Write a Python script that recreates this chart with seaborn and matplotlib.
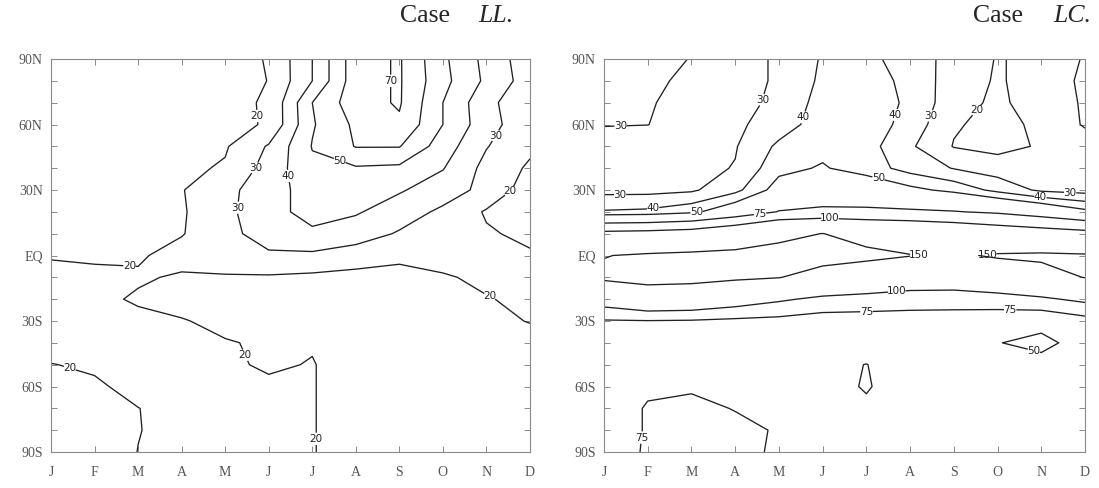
import matplotlib
matplotlib.use('Agg')
import matplotlib.pyplot as plt
import numpy as np
import pandas as pd
import seaborn as sns

months = ['J', 'F', 'M', 'A', 'M', 'J', 'J', 'A', 'S', 'O', 'N', 'D']
lats = [90, 80, 70, 60, 50, 40, 30, 20, 10, 0,
        -10, -20, -30, -40, -50, -60, -70, -80, -90]
lat_ticks = [90, 60, 30, 0, -30, -60, -90]
lat_labels = ['90N', '60N', '30N', 'EQ', '30S', '60S', '90S']

ll_levels = [20, 30, 40, 50, 60, 70]
lc_levels = [20, 30, 40, 50, 75, 100, 150]

# Case LL, rows = latitude (90N -> 90S), columns = month (J -> D)
ll_grid = [
    [10, 11, 12, 13, 17, 20.5, 40, 66, 71, 52, 37, 24],        # 90N
    [10, 11, 12, 13, 16, 20.2, 40, 66, 71, 53, 38, 25],        # 80N
    [10, 11, 12, 13, 18, 20.8, 50, 66, 71, 50, 33, 22],        # 70N
    [11, 11, 12, 13, 17, 21, 49, 62, 68.5, 50, 34, 23],        # 60N
    [12, 12, 13, 15, 19, 31, 50.5, 60.5, 60.5, 45, 30.5, 22],  # 50N
    [13, 13, 14, 18, 21, 34, 48, 49, 48, 40.5, 27, 18.5],      # 40N
    [14, 15, 17, 19.5, 27, 36, 44, 45, 41, 35, 27, 15],        # 30N
    [15, 15, 17, 19, 27, 38, 42, 41, 35, 28, 19, 15],          # 20N
    [17, 17, 18, 19.5, 26, 36, 39, 35, 29, 25, 21, 18],        # 10N
    [19, 18, 19, 23, 26, 28, 28, 25, 22, 24, 22, 21],          # EQ
    [24, 23, 21, 19, 19, 19, 18, 17, 17, 19, 22, 23],          # 10S
    [24, 22, 19, 17, 16, 16, 16, 16, 16, 17, 19.5, 22],        # 20S
    [24, 23, 22, 20.5, 18, 17, 16, 15, 15, 15, 17, 20.5],      # 30S
    [23, 23, 22, 21, 20.5, 19, 19.5, 16, 15, 15, 15, 16],      # 40S
    [19.8, 21, 22, 22, 21, 19.2, 20.3, 17, 16, 15, 15, 15],    # 50S
    [17, 19, 22, 23, 23, 21, 20.3, 17, 16, 15, 15, 15],        # 60S
    [15, 17, 19.9, 22, 23, 22, 20.3, 17, 16, 15, 15, 15],      # 70S
    [14, 16, 19.8, 22, 23, 22, 20.3, 17, 16, 15, 14, 14],      # 80S
    [13, 16, 20.1, 22, 23, 22, 20.3, 17, 16, 15, 14, 14],      # 90S
]

# Case LC
lc_grid = [
    [33, 31, 29.9, 27, 31, 41, 42, 36.5, 25.5, 19.5, 22, 31],              # 90N
    [33, 31, 29, 27, 31, 42, 45, 37, 25, 19, 24, 32],                      # 80N
    [34, 30.5, 28, 27, 32, 44, 46, 38, 24, 18, 25, 31],                    # 70N
    [30.3, 30.1, 27, 28, 35, 45, 46, 36, 21, 17, 22, 31],                  # 60N
    [27, 26, 27, 29.3, 42, 47, 44, 31.5, 19.5, 17, 21, 25],                # 50N
    [26, 25, 27, 30.5, 47, 51, 45, 36, 29.5, 25, 23, 24],                  # 40N
    [27, 27, 28.5, 37, 55, 62, 60, 53, 47, 37, 28, 26],                    # 30N
    [41, 42, 47, 60, 76, 79, 79, 78, 76, 72, 64, 53],                      # 20N
    [107, 109, 113, 125, 142, 150.5, 137.5, 132, 125, 117.6, 113, 108.5],  # 10N
    [149, 154, 157, 159, 161, 162, 158, 151, 146, 153, 155, 153],          # EQ
    [156, 160, 159, 155, 151, 137, 127, 119, 119, 129, 139, 150.8],        # 10S
    [115, 131, 128, 116, 104, 94, 91, 87.5, 86.4, 88.6, 95.5, 106],        # 20S
    [73, 74, 73, 70, 68, 63, 63, 63, 63, 60, 55, 66],                      # 30S
    [66, 66, 65, 64, 63, 62, 62, 60, 58, 50.5, 46, 56],                    # 40S
    [68, 69, 69, 67, 65, 68, 75.5, 62, 60, 57, 55, 58],                    # 50S
    [70, 73, 73.5, 72, 70, 68, 76.5, 65, 62, 60, 60, 62],                  # 60S
    [68, 76, 78, 74.5, 68, 66, 72, 64, 62, 61, 61, 62],                    # 70S
    [68, 76, 79, 78, 74, 68, 66, 64, 63, 62, 62, 63],                      # 80S
    [68, 76.5, 79, 77, 74, 68, 66, 64, 63, 62, 62, 63],                    # 90S
]

# where the contour labels sit (month index, latitude)
ll_label_pos = [(4.8, 64), (4.85, 38.5), (4.45, 21.5), (5.65, 37), (6.55, 39),
                (7.9, 80), (10.2, 55), (10.55, 29), (1.8, -4.6), (10.2, -13.7),
                (4.65, -44), (0.45, -50.3), (6.2, -84)]
lc_label_pos = [(0.38, 58.5), (3.69, 70.8), (4.7, 62.3), (6.76, 63.8),
                (7.49, 63.8), (8.58, 65.4), (0.37, 25.1), (1.13, 20.5),
                (2.12, 19.5), (3.57, 18.9), (5.17, 17.2), (6.24, 32.3),
                (9.98, 26.7), (10.66, 29.0), (7.23, -1.3), (8.76, 3.3),
                (6.7, -17.3), (6.0, -24.2), (9.29, -23.4), (9.83, -43.5),
                (1.1, -83.9)]

sns.set_theme(style='ticks')
plt.rcParams['font.family'] = ['Liberation Serif', 'DejaVu Serif']

fig = plt.figure(figsize=(10.99, 4.88), dpi=100)
W, H = 1099, 488
ax_ll = fig.add_axes([51 / W, 1 - 452 / H, 479 / W, 393 / H])
ax_lc = fig.add_axes([604 / W, 1 - 452 / H, 481 / W, 393 / H])

panels = [
    (ax_ll, ll_grid, ll_levels, ll_label_pos),
    (ax_lc, lc_grid, lc_levels, lc_label_pos),
]

for ax, grid, levels, label_pos in panels:
    df = pd.DataFrame(grid, index=lats, columns=range(len(months)))
    cs = ax.contour(df.columns, df.index, df.values, levels=levels,
                    colors='#202020', linewidths=0.95)
    texts = ax.clabel(cs, manual=label_pos, inline=True, inline_spacing=1,
                      fmt='%d', fontsize=7.5, colors='#202020')
    # GrADS style: labels stay horizontal
    for t in texts:
        t.set_rotation(0)
        t.set_fontfamily('DejaVu Sans')

    ax.set_xlim(0, 11)
    ax.set_ylim(-90, 90)
    ax.set_xticks(range(len(months)))
    ax.set_xticklabels(months)
    ax.set_yticks(lat_ticks)
    ax.set_yticklabels(lat_labels)
    ax.set_yticks(np.arange(-90, 91, 10), minor=True)
    ax.tick_params(which='both', direction='in', length=4.5, width=0.7,
                   color='#8a8a8a', top=True, right=True)
    ax.tick_params(axis='x', pad=10, labelsize=10, labelcolor='#555555')
    ax.tick_params(axis='y', pad=6, labelsize=10, labelcolor='#555555')
    for sp in ax.spines.values():
        sp.set_color('#8a8a8a')
        sp.set_linewidth(0.8)
    ax.set_facecolor('white')

ty = 1 - 16 / H
fig.text(450 / W, ty, 'Case', ha='right', va='center', fontsize=18.5)
fig.text(478 / W, ty, 'LL.', ha='left', va='center', fontsize=18.5,
         style='italic')
fig.text(1023 / W, ty, 'Case', ha='right', va='center', fontsize=18.5)
fig.text(1053 / W, ty, 'LC.', ha='left', va='center', fontsize=18.5,
         style='italic')

fig.savefig('out.png', dpi=100, facecolor='white')
